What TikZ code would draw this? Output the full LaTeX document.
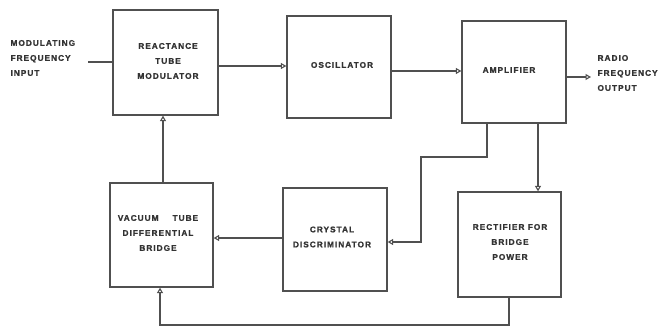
\documentclass[tikz,border=0pt]{standalone}
\usepackage{fontspec}
\usetikzlibrary{arrows.meta}
\newfontfamily\blocklabel{Liberation Sans}[LetterSpace=12,BoldFeatures={FakeBold=1.2}]
\definecolor{ink}{HTML}{505050}
\definecolor{txt}{HTML}{333333}
\begin{document}
\begin{tikzpicture}[x=1pt,y=-1pt,
  every node/.style={font=\blocklabel\bfseries\fontsize{8.3}{15}\selectfont, text=txt},
  block/.style={draw=ink, line width=1.3pt, inner sep=0pt},
  wire/.style={draw=ink, line width=1.3pt},
  flow/.style={wire, -{Triangle[open,length=5.5pt,width=6pt,line width=1.1pt]}},
  tag/.style={align=left, anchor=west}]
\useasboundingbox (0,0) rectangle (658,331);

% blocks
\node[block, minimum width=105pt, minimum height=105pt] (react)  at (165.5,62.5) {};
\node[block, minimum width=104pt, minimum height=102pt] (osc)    at (339,67) {};
\node[block, minimum width=104pt, minimum height=102pt] (amp)    at (514,72) {};
\node[block, minimum width=103pt, minimum height=104pt] (bridge) at (161.5,235) {};
\node[block, minimum width=104pt, minimum height=103pt] (crys)   at (335,239.5) {};
\node[block, minimum width=103pt, minimum height=105pt] (rect)   at (509.5,244.5) {};

% block titles
\node[align=center] at (168,61) {REACTANCE\\TUBE\\MODULATOR};
\node at (342,65) {OSCILLATOR};
\node at (509,70) {AMPLIFIER};
\node[align=center] at (158,233) {VACUUM\hspace{14pt}TUBE\\DIFFERENTIAL\\BRIDGE};
\node[align=center] at (332,237) {CRYSTAL\\DISCRIMINATOR};
\node[align=center] at (510,242) {RECTIFIER FOR\\BRIDGE\\POWER};

% outside labels
\node[tag] (inlbl) at (7,58) {MODULATING\\FREQUENCY\\INPUT};
\node[tag] (outlbl) at (594,73) {RADIO\\FREQUENCY\\OUTPUT};

% connector end points
\coordinate (in) at (88,62);
\coordinate (out) at (591,77);
\coordinate (ampA) at (487,123);
\coordinate (jogA) at (487,157);
\coordinate (jogB) at (421,157);
\coordinate (jogC) at (421,242);
\coordinate (rectB) at (509,297);
\coordinate (loopA) at (509,325);
\coordinate (loopB) at (160,325);

% signal path
\draw[wire] (in) -- (in -| react.west);
\draw[flow] (react.east |- 0,66) -- (osc.west |- 0,66);
\draw[flow] (osc.east |- 0,71) -- (amp.west |- 0,71);
\draw[flow] (amp.east |- out) -- (out);

% feedback paths
\draw[flow] (ampA) -- (jogA) -- (jogB) -- (jogC) -- (crys.east |- jogC);
\draw[flow] (amp.south -| 538,0) -- (rect.north -| 538,0);
\draw[flow] (crys.west |- 0,238) -- (bridge.east |- 0,238);
\draw[flow] (bridge.north -| 163,0) -- (react.south -| 163,0);
\draw[flow] (rectB) -- (loopA) -- (loopB) -- (bridge.south -| loopB);
\end{tikzpicture}
\end{document}
